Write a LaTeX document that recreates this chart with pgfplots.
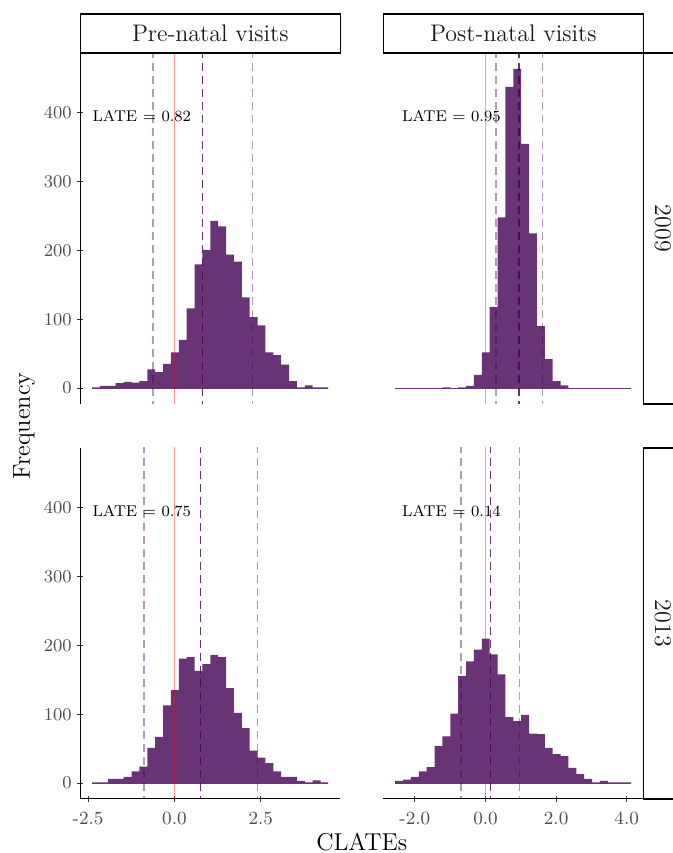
\documentclass[border=0pt]{standalone}
\usepackage{pgfplots}
\pgfplotsset{compat=1.18}
\definecolor{barcol}{RGB}{105,52,118}
\definecolor{vir}{HTML}{440154}
\definecolor{tickgrey}{HTML}{4D4D4D}
\definecolor{tickline}{HTML}{333333}
\definecolor{stripgrey}{HTML}{1A1A1A}

\tikzset{latelab/.style={anchor=west, inner sep=0pt, font=\fontsize{7.8}{9}\selectfont}}
\pgfplotsset{
  facet/.style={
    scale only axis, width=130pt, height=175.5pt, anchor=south west,
    ymin=-23.2, ymax=487.2, enlargelimits=false,
    tick align=outside, major tick length=3.2pt,
    tick style={tickline, line width=0.5pt},
    ytick={0,100,200,300,400},
    yticklabel style={font=\fontsize{9.3}{11}\selectfont, text=tickgrey, inner sep=0pt, xshift=-2.5pt},
    xticklabel style={font=\fontsize{9.3}{11}\selectfont, text=tickgrey, inner sep=0pt, yshift=-4.8pt},
  },
  noarrow/.style={axis line style={-, black, line width=0.5pt}},
  leftcol/.style={xmin=-2.725, xmax=4.803, xtick={-2.5,0,2.5}, xticklabels={-2.5,0.0,2.5}},
  rightcol/.style={xmin=-2.895, xmax=4.470, xtick={-2,0,2,4}, xticklabels={-2.0,0.0,2.0,4.0}},
  hist/.style={fill=barcol, draw=none, const plot mark left},
  base/.style={barcol, line width=0.45pt},
  zeroline/.style={red, opacity=0.4, line width=0.5pt},
  lateline/.style={vir, opacity=0.8, line width=0.7pt, dash pattern=on 4pt off 2.5pt},
  ciline/.style={vir, opacity=0.4, line width=0.65pt, dash pattern=on 4pt off 2.5pt},
}

\begin{document}
\begin{tikzpicture}
% ---------------- Top left: Pre-natal, 2009
\begin{axis}[facet, leftcol, at={(40.15pt,224.5pt)}, axis x line=none, axis y line=left, xtick=\empty, noarrow]
\addplot[hist] coordinates {
(-2.383,1) (-2.15487,3) (-1.92673,3) (-1.6986,7) (-1.47047,9) (-1.24233,8)
(-1.0142,10) (-0.78607,27) (-0.55793,23) (-0.3298,35) (-0.10167,52) (0.12647,70)
(0.3546,116) (0.58273,180) (0.81087,201) (1.039,243) (1.26713,235) (1.49527,194)
(1.7234,184) (1.95153,132) (2.17967,103) (2.4078,91) (2.63593,52) (2.86407,48)
(3.0922,34) (3.32033,10) (3.54847,1) (3.7766,4) (4.00473,1) (4.23287,1) (4.461,1)
} \closedcycle;
\addplot[base] coordinates {(-2.383,0) (4.461,0)};
\addplot[zeroline] coordinates {(0,-30) (0,500)};
\addplot[lateline] coordinates {(0.82,-30) (0.82,500)};
\addplot[ciline] coordinates {(-0.62,-30) (-0.62,500)};
\addplot[ciline] coordinates {(2.27,-30) (2.27,500)};
\node[latelab] at (axis cs:-2.38,395) {LATE $=$ 0.82};
\end{axis}

% ---------------- Top right: Post-natal, 2009
\begin{axis}[facet, rightcol, at={(191.65pt,224.5pt)}, axis x line=none, axis y line=none, xtick=\empty, ytick=\empty, noarrow]
\addplot[hist] coordinates {
(-2.560,0) (-2.33683,0) (-2.11367,0) (-1.8905,0) (-1.66733,0) (-1.44417,0)
(-1.221,1) (-0.99783,0) (-0.77467,1) (-0.5515,3) (-0.32833,19) (-0.10517,52)
(0.118,118) (0.34117,248) (0.56433,438) (0.7875,464) (1.01067,355) (1.23383,225)
(1.457,90) (1.68017,42) (1.90333,10) (2.1265,4) (2.34967,0) (2.57283,0)
(2.796,0) (3.01917,0) (3.24233,0) (3.4655,0) (3.68867,0) (3.91183,0) (4.135,0)
} \closedcycle;
\addplot[base] coordinates {(-2.560,0) (4.135,0)};
\addplot[zeroline] coordinates {(0,-30) (0,500)};
\addplot[lateline] coordinates {(0.95,-30) (0.95,500)};
\addplot[ciline] coordinates {(0.30,-30) (0.30,500)};
\addplot[ciline] coordinates {(1.61,-30) (1.61,500)};
\node[latelab] at (axis cs:-2.37,395) {LATE $=$ 0.95};
\end{axis}

% ---------------- Bottom left: Pre-natal, 2013
\begin{axis}[facet, leftcol, at={(40.15pt,27pt)}, axis x line=bottom, axis y line=left, noarrow]
\addplot[hist] coordinates {
(-2.383,1) (-2.15487,1) (-1.92673,6) (-1.6986,6) (-1.47047,9) (-1.24233,17)
(-1.0142,24) (-0.78607,51) (-0.55793,67) (-0.3298,113) (-0.10167,135) (0.12647,181)
(0.3546,183) (0.58273,163) (0.81087,173) (1.039,186) (1.26713,183) (1.49527,138)
(1.7234,102) (1.95153,80) (2.17967,47) (2.4078,37) (2.63593,29) (2.86407,17)
(3.0922,9) (3.32033,9) (3.54847,3) (3.7766,1) (4.00473,4) (4.23287,1) (4.461,1)
} \closedcycle;
\addplot[base] coordinates {(-2.383,0) (4.461,0)};
\addplot[zeroline] coordinates {(0,-30) (0,500)};
\addplot[lateline] coordinates {(0.75,-30) (0.75,500)};
\addplot[ciline] coordinates {(-0.88,-30) (-0.88,500)};
\addplot[ciline] coordinates {(2.40,-30) (2.40,500)};
\node[latelab] at (axis cs:-2.38,395) {LATE $=$ 0.75};
\end{axis}

% ---------------- Bottom right: Post-natal, 2013
\begin{axis}[facet, rightcol, at={(191.65pt,27pt)}, axis x line=bottom, axis y line=none, ytick=\empty, noarrow]
\addplot[hist] coordinates {
(-2.560,3) (-2.33683,5) (-2.11367,9) (-1.8905,17) (-1.66733,23) (-1.44417,54)
(-1.221,68) (-0.99783,101) (-0.77467,156) (-0.5515,177) (-0.32833,194) (-0.10517,210)
(0.118,187) (0.34117,158) (0.56433,96) (0.7875,90) (1.01067,99) (1.23383,72)
(1.457,71) (1.68017,51) (1.90333,42) (2.1265,39) (2.34967,22) (2.57283,13)
(2.796,6) (3.01917,1) (3.24233,3) (3.4655,1) (3.68867,1) (3.91183,1) (4.135,1)
} \closedcycle;
\addplot[base] coordinates {(-2.560,0) (4.135,0)};
\addplot[zeroline] coordinates {(0,-30) (0,500)};
\addplot[lateline] coordinates {(0.14,-30) (0.14,500)};
\addplot[ciline] coordinates {(-0.69,-30) (-0.69,500)};
\addplot[ciline] coordinates {(0.97,-30) (0.97,500)};
\node[latelab] at (axis cs:-2.37,395) {LATE $=$ 0.14};
\end{axis}

% ---------------- Strips
\begin{scope}[every node/.style={text=stripgrey, font=\fontsize{12}{14}\selectfont}]
\draw[line width=0.65pt, fill=white] (40.15pt,400pt) rectangle (170.15pt,419.5pt);
\node at (105.15pt,409.75pt) {Pre-natal visits};
\draw[line width=0.65pt, fill=white] (191.65pt,400pt) rectangle (321.65pt,419.5pt);
\node at (256.65pt,409.75pt) {Post-natal visits};
\draw[line width=0.65pt, fill=white] (321.65pt,224.5pt) rectangle (341.15pt,400pt);
\node[rotate=-90] at (331.4pt,312.25pt) {2009};
\draw[line width=0.65pt, fill=white] (321.65pt,27pt) rectangle (341.15pt,202.5pt);
\node[rotate=-90] at (331.4pt,114.75pt) {2013};
\end{scope}

% ---------------- Axis titles
\node[rotate=90, font=\fontsize{12.2}{14}\selectfont] at (12pt,213.5pt) {Frequency};
\node[font=\fontsize{12.2}{14}\selectfont] at (180.9pt,5.5pt) {CLATEs};

\pgfresetboundingbox
\useasboundingbox (0pt,0pt) rectangle (336.5pt,426.5pt);
\end{tikzpicture}
\end{document}
